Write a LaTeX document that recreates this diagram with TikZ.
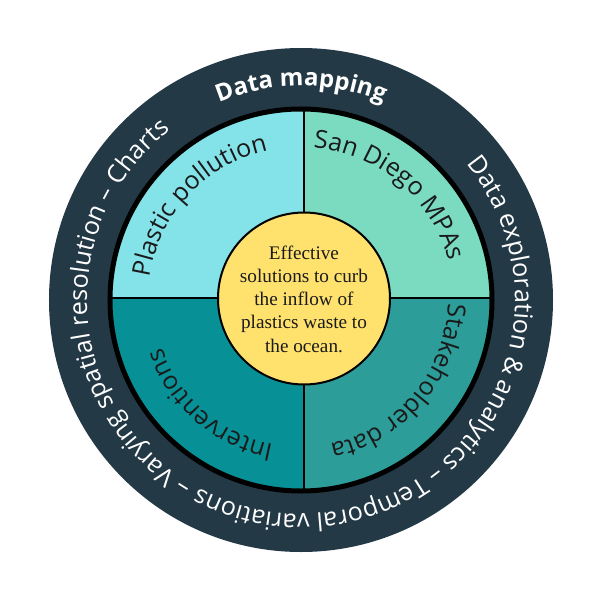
\documentclass[tikz,border=0pt]{standalone}
\usepackage{fontspec}
\usetikzlibrary{decorations.text}
\newfontfamily\ringfont{Open Sans}
\newfontfamily\centerfont{Liberation Serif}
\definecolor{ringdark}{HTML}{243946}
\definecolor{qone}{HTML}{84E3E8}
\definecolor{qtwo}{HTML}{7ADBC0}
\definecolor{qthree}{HTML}{2D9D99}
\definecolor{qfour}{HTML}{079196}
\definecolor{goalfill}{HTML}{FFE26E}
\definecolor{inktext}{HTML}{1A1A1A}
\begin{document}
\begin{tikzpicture}[x=0.5pt,y=0.5pt,
  ringtext/.style={decorate, decoration={text along path, text align=center, text color=white}},
  quadtext/.style={decorate, decoration={text along path, text align=center, text color=inktext}},
  divider/.style={draw=black, line width=0.8pt}]
\useasboundingbox (-301,-300) rectangle (299,300);
% outer dark ring
\fill[ringdark] (0,0) circle[radius=252];
% quadrants
\coordinate (mid) at (3,2);
\begin{scope}
  \clip (0,0) circle[radius=191];
  \fill[qone] (mid) rectangle (-200,200);
  \fill[qtwo] (mid) rectangle (200,200);
  \fill[qthree] (mid) rectangle (200,-200);
  \fill[qfour] (mid) rectangle (-200,-200);
  \coordinate (ntop) at (3,200);
  \coordinate (nbot) at (3,-200);
  \coordinate (nleft) at (-200,2);
  \coordinate (nright) at (200,2);
  \draw[divider] (nbot) -- (ntop);
  \draw[divider] (nleft) -- (nright);
\end{scope}
\draw[black, line width=2.5pt] (0,0) circle[radius=191];
% centre
\node[circle, fill=goalfill, draw=black, line width=1pt, minimum size=86pt, inner sep=0pt] (goal) at (3,1.5) {};
\node[font=\centerfont\fontsize{9.6}{11.6}\selectfont, align=center, text=inktext] (goaltext) at (3,1)
  {Effective\\solutions to curb\\the inflow of\\plastics waste to\\the ocean.};
% ring texts
\path[ringtext, decoration={text={|\ringfont\bfseries\fontsize{12}{14}\selectfont|Data mapping}}]
  (135:214) arc[start angle=135, end angle=45, radius=214];
\path[ringtext, decoration={text={|\ringfont\fontsize{12.6}{14}\selectfont|Data exploration {\&} analytics – Temporal variations – Varying spatial resolution – Charts}}]
  (40:214) arc[start angle=40, end angle=-233, radius=214];
% quadrant texts
\path[quadtext, decoration={text={|\ringfont\fontsize{12.5}{15}\selectfont|Plastic pollution}}]
  (187:153) arc[start angle=187, end angle=87, radius=153];
\path[quadtext, decoration={text={|\ringfont\fontsize{12.5}{15}\selectfont|San Diego MPAs}}]
  (100:153) arc[start angle=100, end angle=0, radius=153];
\path[quadtext, decoration={text={|\ringfont\fontsize{12.5}{15}\selectfont|Stakeholder data}}]
  (10:147) arc[start angle=10, end angle=-90, radius=147];
\path[quadtext, decoration={text={|\ringfont\fontsize{12.5}{15}\selectfont|Interventions}}]
  (-81:147) arc[start angle=-81, end angle=-181, radius=147];
\end{tikzpicture}
\end{document}
